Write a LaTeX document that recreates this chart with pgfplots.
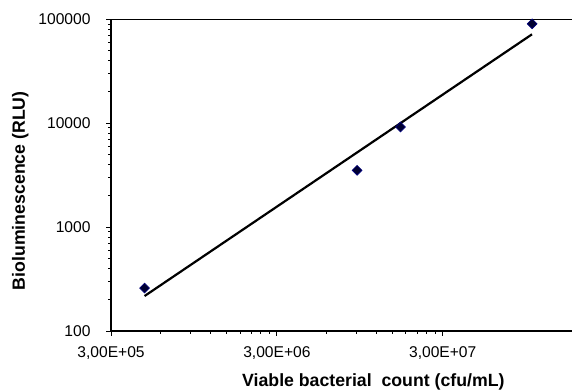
\documentclass[border=0pt]{standalone}
\usepackage{fontspec}
\setmainfont{Liberation Sans}
\usepackage{pgfplots}
\pgfplotsset{compat=1.18}
\definecolor{mkfill}{RGB}{0,0,50}
\definecolor{mkdraw}{RGB}{0,0,128}
\begin{document}
\begin{tikzpicture}[x=1pt,y=1pt]
\useasboundingbox (0,0) rectangle (572,391);
\begin{axis}[
  at={(111pt,60pt)}, anchor=south west,
  scale only axis, width=461pt, height=311.7pt,
  xmode=log, ymode=log,
  xmin=3e5, xmax=1.806e8, ymin=100, ymax=100000,
  clip=false,
  axis line style={draw=none},
  xtick={3e5,3e6,3e7},
  xticklabels={{3,00E+05},{3,00E+06},{3,00E+07}},
  ytick={100,1000,10000,100000},
  yticklabels={100,1000,10000,100000},
  minor xtick={}, minor ytick={},
  xtick pos=lower, ytick pos=left,
  tick align=outside,
  major tick length=5pt,
  tick style={black, line width=1pt},
  ticklabel style={font=\fontsize{15.6}{18}\selectfont},
  xticklabel style={yshift=-7pt},
  yticklabel style={xshift=-12pt},
  xlabel={Viable bacterial\ \ count (cfu/mL)},
  ylabel={Bioluminescence (RLU)},
  label style={font=\fontsize{17.7}{20}\selectfont\bfseries},
  xlabel style={at={(axis description cs:0.569,-0.1636)}, anchor=center},
  ylabel style={at={(axis description cs:-0.197,0.45)}, anchor=center},
]
\draw[line width=2pt] (rel axis cs:0,1) -- (rel axis cs:0,0) -- (rel axis cs:1,0);
\draw[line width=1pt] (rel axis cs:0,1) -- (rel axis cs:1,1);
\addplot[black, line width=2.2pt] coordinates {(4.78e5,217) (1.036e8,71700)};
\addplot[only marks, mark=square*, mark size=3.5pt,
  mark options={rotate=45, fill=mkfill, draw=mkdraw, line width=0.6pt}]
  coordinates {(4.78e5,259) (9.14e6,3520) (1.67e7,9190) (1.038e8,90500)};
\end{axis}
\end{tikzpicture}
\end{document}
